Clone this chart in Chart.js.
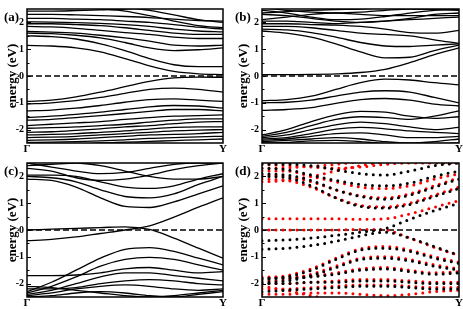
<!DOCTYPE html>
<html><head><meta charset="utf-8">
<script src="https://cdn.jsdelivr.net/npm/chart.js@4.4.0/dist/chart.umd.min.js"></script>
<style>
html,body{margin:0;padding:0;background:#fff;}
#wrap{position:relative;width:463px;height:309px;overflow:hidden;background:#fff;}
canvas{position:absolute;}
</style></head><body>
<div id="wrap">
<canvas id="ca" width="231" height="154" style="left:0;top:0"></canvas>
<canvas id="cb" width="232" height="154" style="left:231px;top:0"></canvas>
<canvas id="cc" width="231" height="155" style="left:0;top:154px"></canvas>
<canvas id="cd" width="232" height="155" style="left:231px;top:154px"></canvas>
</div>
<script>
// ---------- data ----------
const kGrid = [0, 0.125, 0.25, 0.375, 0.5, 0.625, 0.75, 0.875, 1];
const xTickLabels = ['Γ', 'Y'];
const yTickValues = [-2, -1, 0, 1, 2];
const fermiLevel = 0;
const panelLabels = ['(a)', '(b)', '(c)', '(d)'];
const axisTitle = 'energy (eV)';

const bandsA = [
 [1.14, 1.12, 1.05, 0.90, 0.65, 0.38, 0.17, 0.08, 0.05],
 [1.50, 1.47, 1.38, 1.20, 0.95, 0.65, 0.42, 0.35, 0.35],
 [1.60, 1.58, 1.52, 1.42, 1.25, 1.05, 0.95, 0.98, 1.05],
 [1.66, 1.64, 1.60, 1.52, 1.42, 1.30, 1.15, 1.12, 1.15],
 [1.85, 1.83, 1.78, 1.70, 1.62, 1.55, 1.45, 1.40, 1.40],
 [1.95, 1.95, 1.92, 1.88, 1.80, 1.70, 1.60, 1.55, 1.55],
 [2.02, 2.01, 1.99, 1.96, 1.92, 1.85, 1.75, 1.68, 1.65],
 [2.15, 2.15, 2.12, 2.10, 2.05, 2.00, 1.92, 1.82, 1.75],
 [2.30, 2.30, 2.28, 2.25, 2.22, 2.18, 2.12, 2.07, 2.05],
 [2.42, 2.42, 2.44, 2.47, 2.50, 2.55, 2.60, 2.62, 2.62],
 [2.65, 2.60, 2.56, 2.50, 2.42, 2.25, 2.05, 1.88, 1.80],
 [2.75, 2.70, 2.65, 2.60, 2.55, 2.45, 2.28, 2.10, 2.00],
 [-0.95, -0.90, -0.78, -0.60, -0.40, -0.20, -0.07, -0.04, -0.05],
 [-1.05, -1.00, -0.92, -0.80, -0.65, -0.50, -0.45, -0.50, -0.60],
 [-1.30, -1.27, -1.20, -1.10, -0.98, -0.88, -0.85, -0.90, -0.95],
 [-1.55, -1.50, -1.43, -1.35, -1.25, -1.15, -1.10, -1.12, -1.20],
 [-1.65, -1.62, -1.55, -1.48, -1.40, -1.32, -1.25, -1.25, -1.30],
 [-1.85, -1.80, -1.75, -1.70, -1.62, -1.55, -1.50, -1.48, -1.45],
 [-1.95, -1.93, -1.90, -1.85, -1.80, -1.72, -1.65, -1.60, -1.60],
 [-2.10, -2.08, -2.03, -1.97, -1.90, -1.85, -1.78, -1.72, -1.70],
 [-2.20, -2.18, -2.15, -2.10, -2.05, -1.98, -1.92, -1.90, -1.90],
 [-2.30, -2.28, -2.25, -2.20, -2.15, -2.10, -2.05, -2.02, -2.00],
 [-2.40, -2.38, -2.35, -2.30, -2.25, -2.20, -2.18, -2.15, -2.10],
 [-2.48, -2.47, -2.45, -2.42, -2.38, -2.33, -2.30, -2.27, -2.25],
 [-2.60, -2.58, -2.55, -2.50, -2.47, -2.44, -2.41, -2.38, -2.35]
];

const bandsB = [
 [0.05, 0.05, 0.06, 0.08, 0.13, 0.25, 0.50, 0.80, 1.05],
 [1.68, 1.60, 1.45, 1.20, 0.90, 0.68, 0.70, 0.95, 1.15],
 [1.75, 1.72, 1.62, 1.45, 1.25, 1.12, 1.10, 1.15, 1.20],
 [1.85, 1.85, 1.80, 1.70, 1.60, 1.55, 1.50, 1.35, 1.22],
 [1.95, 1.95, 1.92, 1.90, 1.85, 1.75, 1.62, 1.60, 1.70],
 [2.05, 2.05, 2.00, 1.95, 2.00, 2.05, 2.10, 2.15, 2.20],
 [2.10, 2.20, 2.30, 2.35, 2.30, 2.25, 2.25, 2.25, 2.25],
 [2.30, 2.25, 2.15, 2.05, 2.00, 2.05, 2.15, 2.30, 2.35],
 [2.45, 2.35, 2.20, 2.10, 2.12, 2.22, 2.35, 2.45, 2.50],
 [2.55, 2.45, 2.38, 2.35, 2.38, 2.45, 2.50, 2.48, 2.45],
 [2.35, 2.40, 2.45, 2.48, 2.50, 2.55, 2.60, 2.60, 2.60],
 [-0.92, -0.88, -0.75, -0.50, -0.25, -0.12, -0.15, -0.25, -0.33],
 [-1.00, -0.98, -0.90, -0.75, -0.60, -0.55, -0.60, -0.80, -1.00],
 [-1.28, -1.25, -1.18, -1.02, -0.88, -0.84, -0.90, -1.05, -1.12],
 [-2.20, -2.00, -1.70, -1.45, -1.32, -1.35, -1.50, -1.58, -1.52],
 [-2.25, -2.10, -1.85, -1.62, -1.52, -1.55, -1.62, -1.50, -1.30],
 [-2.30, -2.20, -2.00, -1.82, -1.72, -1.78, -1.90, -2.00, -1.92],
 [-2.35, -2.30, -2.15, -1.98, -1.92, -1.97, -2.05, -2.10, -2.15],
 [-2.40, -2.35, -2.25, -2.15, -2.12, -2.20, -2.30, -2.30, -2.25],
 [-2.45, -2.40, -2.35, -2.30, -2.35, -2.45, -2.50, -2.45, -2.35],
 [-2.50, -2.48, -2.42, -2.40, -2.45, -2.52, -2.55, -2.52, -2.50]
];

const bandsC = [
 [0.00, 0.03, 0.06, 0.09, 0.12, 0.02, -0.30, -0.68, -1.05],
 [-0.40, -0.35, -0.26, -0.13, 0.00, 0.15, 0.48, 0.85, 1.20],
 [1.90, 1.85, 1.60, 1.20, 0.88, 0.84, 1.05, 1.35, 1.65],
 [2.00, 1.95, 1.80, 1.50, 1.25, 1.20, 1.35, 1.70, 2.00],
 [2.05, 2.05, 2.00, 1.80, 1.60, 1.55, 1.65, 1.90, 2.10],
 [2.30, 2.20, 1.95, 1.85, 1.90, 2.05, 2.25, 2.40, 2.50],
 [2.40, 2.45, 2.50, 2.40, 2.20, 2.00, 1.90, 1.90, 2.00],
 [2.50, 2.35, 2.20, 2.10, 2.15, 2.30, 2.45, 2.50, 2.50],
 [-2.30, -1.95, -1.50, -1.05, -0.72, -0.66, -0.80, -1.05, -1.30],
 [-2.35, -2.10, -1.75, -1.35, -1.10, -1.02, -1.10, -1.30, -1.50],
 [-1.70, -1.70, -1.68, -1.60, -1.45, -1.40, -1.50, -1.60, -1.55],
 [-2.40, -2.25, -2.00, -1.75, -1.60, -1.60, -1.70, -1.80, -1.90],
 [-2.20, -2.20, -2.15, -2.00, -1.90, -1.85, -1.90, -2.00, -2.05],
 [-2.45, -2.35, -2.20, -2.10, -2.05, -2.10, -2.20, -2.25, -2.20],
 [-2.50, -2.45, -2.35, -2.30, -2.35, -2.45, -2.50, -2.40, -2.30],
 [-2.10, -2.15, -2.25, -2.35, -2.45, -2.50, -2.45, -2.35, -2.25]
];

const bandsDBlack = [
 [-0.40, -0.37, -0.30, -0.20, -0.08, 0.05, 0.40, 0.72, 1.00],
 [-0.72, -0.68, -0.58, -0.42, -0.22, -0.08, -0.30, -0.62, -0.95],
 [2.00, 1.95, 1.65, 1.20, 0.88, 0.82, 0.95, 1.25, 1.55],
 [2.10, 2.05, 1.85, 1.50, 1.25, 1.15, 1.30, 1.60, 1.90],
 [2.30, 2.25, 2.05, 1.85, 1.70, 1.65, 1.75, 2.00, 2.20],
 [2.45, 2.45, 2.40, 2.25, 2.10, 2.05, 2.20, 2.40, 2.50],
 [-1.85, -1.75, -1.50, -1.10, -0.75, -0.68, -0.80, -1.05, -1.25],
 [-1.95, -1.90, -1.70, -1.40, -1.10, -1.05, -1.15, -1.35, -1.50],
 [-1.80, -1.80, -1.75, -1.65, -1.50, -1.45, -1.55, -1.65, -1.60],
 [-2.00, -2.00, -1.95, -1.95, -1.90, -1.90, -1.95, -2.00, -2.00],
 [-2.30, -2.25, -2.20, -2.15, -2.10, -2.10, -2.15, -2.20, -2.20]
];

const bandsDRed = [
 [0.42, 0.42, 0.42, 0.42, 0.40, 0.42, 0.60, 0.85, 1.10],
 [0.00, 0.00, 0.00, 0.00, 0.02, 0.00, -0.30, -0.65, -0.95],
 [1.90, 1.85, 1.60, 1.20, 0.92, 0.86, 1.00, 1.30, 1.60],
 [2.05, 2.00, 1.80, 1.50, 1.28, 1.20, 1.35, 1.65, 1.95],
 [2.20, 2.20, 2.00, 1.80, 1.60, 1.55, 1.65, 1.90, 2.10],
 [2.45, 2.40, 2.35, 2.30, 2.35, 2.45, 2.50, 2.50, 2.50],
 [1.80, 1.85, 2.00, 2.20, 2.40, 2.55, 2.60, 2.60, 2.60],
 [2.30, 2.32, 2.38, 2.45, 2.55, 2.60, 2.60, 2.60, 2.60],
 [-1.80, -1.70, -1.45, -1.05, -0.70, -0.62, -0.75, -1.00, -1.20],
 [-1.90, -1.85, -1.65, -1.35, -1.05, -1.00, -1.10, -1.30, -1.45],
 [-1.75, -1.75, -1.72, -1.60, -1.45, -1.40, -1.50, -1.60, -1.55],
 [-2.00, -2.00, -1.95, -1.90, -1.85, -1.85, -1.90, -1.95, -1.95],
 [-2.20, -2.20, -2.15, -2.10, -2.05, -2.05, -2.10, -2.15, -2.15],
 [-2.40, -2.40, -2.35, -2.35, -2.40, -2.45, -2.40, -2.30, -2.25],
 [-2.10, -2.25, -2.45, -2.60, -2.60, -2.60, -2.60, -2.60, -2.60]
];

// ---------- drawing ----------
const serif = '"Liberation Serif", "DejaVu Serif", serif';

function framePlugin(label, labelX) {
  return {
    id: 'frame',
    afterDatasetsDraw(chart) {
      const {ctx, chartArea: a, scales: {y}} = chart;
      ctx.save();
      ctx.strokeStyle = '#000';
      ctx.lineWidth = 1.5;
      ctx.strokeRect(a.left, a.top, a.right - a.left, a.bottom - a.top);
      ctx.lineWidth = 1;
      for (let i = -4; i <= 4; i++) {
        const v = i * 0.5;
        const py = Math.round(y.getPixelForValue(v)) + 0.5;
        const len = (i % 2 === 0) ? 4 : 2.5;
        ctx.beginPath(); ctx.moveTo(a.left, py); ctx.lineTo(a.left + len, py); ctx.stroke();
      }
      ctx.font = 'bold 13px ' + serif;
      ctx.fillStyle = '#000';
      ctx.textAlign = 'left';
      ctx.textBaseline = 'alphabetic';
      ctx.fillText(label, labelX, a.top + 12);
      ctx.restore();
    }
  };
}

function makePanel(id, cfg) {
  const datasets = [];
  cfg.series.forEach(s => s.bands.forEach(b => datasets.push({
    data: b.map((e, i) => ({x: kGrid[i], y: e})),
    borderColor: s.color,
    borderWidth: s.width,
    borderDash: s.dash || [],
    borderCapStyle: s.cap || 'butt',
    pointRadius: 0,
    cubicInterpolationMode: 'monotone',
    fill: false
  })));
  datasets.push({
    data: [{x: kGrid[0], y: fermiLevel}, {x: kGrid[kGrid.length - 1], y: fermiLevel}],
    borderColor: '#000', borderWidth: 1.3, borderDash: [6, 3], pointRadius: 0, fill: false
  });
  new Chart(document.getElementById(id), {
    type: 'line',
    data: {datasets},
    options: {
      responsive: false, animation: false, events: [],
      layout: {padding: {top: cfg.padTop, right: cfg.padRight, left: 0, bottom: 0}},
      plugins: {legend: {display: false}, tooltip: {enabled: false}},
      scales: {
        x: {
          type: 'linear', min: 0, max: 1,
          afterBuildTicks: sc => { sc.ticks = [{value: 0}, {value: 1}]; },
          afterFit: sc => { sc.height = cfg.xH; },
          grid: {display: false, drawTicks: false}, border: {display: false},
          ticks: {callback: v => (v === 0 ? xTickLabels[0] : xTickLabels[1]),
                  font: {family: serif, weight: 'bold', size: 11}, color: '#000',
                  padding: 0, maxRotation: 0, autoSkip: false}
        },
        y: {
          type: 'linear', min: -2.5, max: 2.5,
          afterBuildTicks: sc => { sc.ticks = yTickValues.map(v => ({value: v})); },
          afterFit: sc => { sc.width = cfg.yW; },
          grid: {display: false, drawTicks: false}, border: {display: false},
          ticks: {font: {family: serif, weight: 'bold', size: 10}, color: '#000', padding: 3},
          title: {display: true, text: axisTitle, color: '#000',
                  font: {family: serif, weight: 'bold', size: 13}, padding: {top: 5, bottom: 0}}
        }
      }
    },
    plugins: [framePlugin(cfg.label, cfg.labelX)]
  });
}

const lineStyle = {color: '#000', width: 1.3};
makePanel('ca', {series: [{...lineStyle, bands: bandsA}], padTop: 5, padRight: 8, xH: 11, yW: 27, label: panelLabels[0], labelX: 4});
makePanel('cb', {series: [{...lineStyle, bands: bandsB}], padTop: 5, padRight: 4, xH: 11, yW: 31, label: panelLabels[1], labelX: 4});
makePanel('cc', {series: [{...lineStyle, bands: bandsC}], padTop: 5, padRight: 8, xH: 12, yW: 27, label: panelLabels[2], labelX: 4});
makePanel('cd', {series: [
  {color: '#000', width: 3, dash: [0, 7], cap: 'round', bands: bandsDBlack},
  {color: '#ff0000', width: 3, dash: [0, 7], cap: 'round', bands: bandsDRed}
], padTop: 5, padRight: 4, xH: 12, yW: 31, label: panelLabels[3], labelX: 4});
</script>
</body></html>
